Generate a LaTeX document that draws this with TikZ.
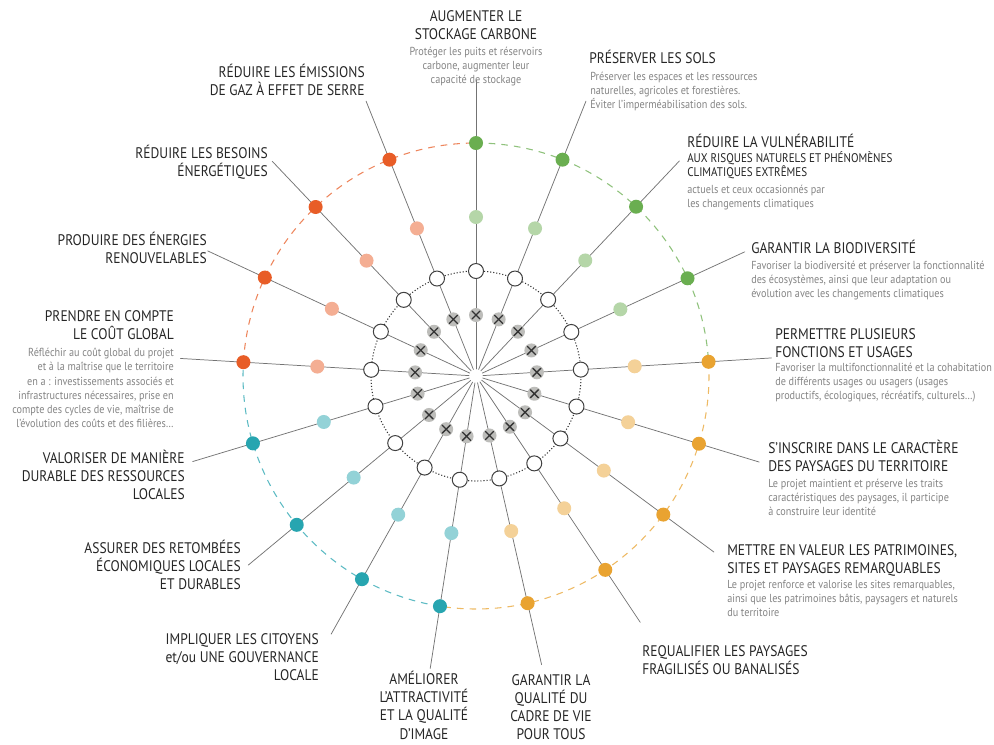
\documentclass[tikz,border=0pt]{standalone}
\usepackage{fontspec}
\setmainfont{PT Sans}[FakeStretch=0.88]

\definecolor{cGreen}{HTML}{6AAE50}
\definecolor{cAmber}{HTML}{E9A331}
\definecolor{cTeal}{HTML}{27A5B0}
\definecolor{cRed}{HTML}{E85D27}
\definecolor{xgrey}{HTML}{BDBDBA}

\begin{document}
\begin{tikzpicture}[x=0.75pt, y=-0.75pt, line cap=round, line join=round,
        ttl/.style={inner sep=0pt, text=black!85, font=\fontsize{11.5}{13.6}\selectfont},
        subt/.style={inner sep=0pt, text=black!85, font=\fontsize{9.4}{10.6}\selectfont},
        dsc/.style={inner sep=0pt, text=black!48, font=\fontsize{8.7}{10.6}\selectfont},
        spoke/.style={draw=black!55, line width=0.55pt},
        ring/.style={draw=black!75, fill=white, line width=0.75pt},
        rim/.style={dash pattern=on 5pt off 4.5pt, line width=0.8pt, line cap=butt}]
    \fill[white] (0,0) rectangle (994,744);
    \coordinate (hub) at (476,376);

    \begin{scope}[shift={(hub)}]
        % dashed rim, one colour per group
        \draw[rim, cGreen!75] (-90:233) arc[start angle=-90, end angle=-3.5, radius=233];
        \draw[rim, cAmber!75] (-3.5:233) arc[start angle=-3.5, end angle=98.9, radius=233];
        \draw[rim, cTeal!75] (98.9:233) arc[start angle=98.9, end angle=183.4, radius=233];
        \draw[rim, cRed!75] (183.4:233) arc[start angle=183.4, end angle=270, radius=233];

        % inner dotted ring
        \draw[black!80, line width=0.8pt, dash pattern=on 0.8pt off 1.5pt, line cap=butt] (0,0) circle (105);

        % spokes
        \foreach \a/\c [count=\i] in {-90/cGreen, -68.2/cGreen, -46.6/cGreen, -24.8/cGreen,
                -3.5/cAmber, 16.9/cAmber, 36.5/cAmber, 56.3/cAmber, 77.2/cAmber,
                98.9/cTeal, 119.3/cTeal, 140.3/cTeal, 163.2/cTeal,
                183.4/cRed, 205/cRed, 226.5/cRed, 248.2/cRed} {
            \coordinate (in\i) at (\a:7);
            \coordinate (tip\i) at (\a:296);
            \coordinate (x\i) at (\a:61);
            \coordinate (w\i) at (\a:105);
            \coordinate (lt\i) at (\a:159);
            \coordinate (dot\i) at (\a:233);
            \draw[spoke] (in\i) -- (tip\i);
            \fill[xgrey] (x\i) circle (7);
            \draw[black!80, line width=1pt] (x\i) +(-4,-4) -- +(4,4) (x\i) +(-4,4) -- +(4,-4);
            \draw[ring] (w\i) circle (7.5);
            \fill[\c!50] (lt\i) circle (7);
            \fill[\c] (dot\i) circle (7);
        }
    \end{scope}

    % Top
    \node[ttl, anchor=north, align=center] (carbone) at (476,10) {AUGMENTER LE\\STOCKAGE CARBONE};
    \node[dsc, anchor=north, align=center] (carboneD) at (476,47) {Protéger les puits et réservoirs\\carbone, augmenter leur\\capacité de stockage};

    % Right side
    \node[ttl, anchor=north west, align=left] (sols) at (589,50) {PRÉSERVER LES SOLS};
    \node[dsc, anchor=north west, align=left] (solsD) at (590,72) {Préserver les espaces et les ressources\\naturelles, agricoles et forestières.\\Éviter l'imperméabilisation des sols.};

    \node[ttl, anchor=north west, align=left] (vuln) at (687,134) {RÉDUIRE LA VULNÉRABILITÉ};
    \node[subt, anchor=north west, align=left] (vulnS) at (687,151) {AUX RISQUES NATURELS ET PHÉNOMÈNES\\CLIMATIQUES EXTRÊMES};
    \node[dsc, anchor=north west, align=left] (vulnD) at (687,185) {actuels et ceux occasionnés par\\les changements climatiques};

    \node[ttl, anchor=north west, align=left] (biodiv) at (751,240) {GARANTIR LA BIODIVERSITÉ};
    \node[dsc, anchor=north west, align=left] (biodivD) at (751,261) {Favoriser la biodiversité et préserver la fonctionnalité\\des écosystèmes, ainsi que leur adaptation ou\\évolution avec les changements climatiques};

    \node[ttl, anchor=north west, align=left] (usages) at (775,328) {PERMETTRE PLUSIEURS\\FONCTIONS ET USAGES};
    \node[dsc, anchor=north west, align=left] (usagesD) at (775,363) {Favoriser la multifonctionnalité et la cohabitation\\de différents usages ou usagers (usages\\productifs, écologiques, récréatifs, culturels…)};

    \node[ttl, anchor=north west, align=left] (caractere) at (768,440) {S'INSCRIRE DANS LE CARACTÈRE\\DES PAYSAGES DU TERRITOIRE};
    \node[dsc, anchor=north west, align=left] (caractereD) at (768,479) {Le projet maintient et préserve les traits\\caractéristiques des paysages, il participe\\à construire leur identité};

    \node[ttl, anchor=north west, align=left] (patrimoine) at (727,544) {METTRE EN VALEUR LES PATRIMOINES,\\SITES ET PAYSAGES REMARQUABLES};
    \node[dsc, anchor=north west, align=left] (patrimoineD) at (727,580) {Le projet renforce et valorise les sites remarquables,\\ainsi que les patrimoines bâtis, paysagers et naturels\\du territoire};

    \node[ttl, anchor=north west, align=left] (requalif) at (642,645) {REQUALIFIER LES PAYSAGES\\FRAGILISÉS OU BANALISÉS};

    % Bottom
    \node[ttl, anchor=north, align=center] (cadrevie) at (551,674) {GARANTIR LA\\QUALITÉ DU\\CADRE DE VIE\\POUR TOUS};
    \node[ttl, anchor=north, align=center] (attract) at (424,671) {AMÉLIORER\\L'ATTRACTIVITÉ\\ET LA QUALITÉ\\D'IMAGE};

    % Left side
    \node[ttl, anchor=north east, align=right] (citoyens) at (319,633) {IMPLIQUER LES CITOYENS\\et/ou UNE GOUVERNANCE\\LOCALE};
    \node[ttl, anchor=north east, align=right] (retombees) at (241,540) {ASSURER DES RETOMBÉES\\ÉCONOMIQUES LOCALES\\ET DURABLES};
    \node[ttl, anchor=north east, align=right] (ressources) at (185,450) {VALORISER DE MANIÈRE\\DURABLE DES RESSOURCES\\LOCALES};

    \node[ttl, anchor=north east, align=right] (cout) at (174,310) {PRENDRE EN COMPTE\\LE COÛT GLOBAL};
    \node[dsc, anchor=north east, align=right] (coutD) at (174,348) {Réfléchir au coût global du projet\\et à la maîtrise que le territoire\\en a : investissements associés et\\infrastructures nécessaires, prise en\\compte des cycles de vie, maîtrise de\\l'évolution des coûts et des filières…};

    \node[ttl, anchor=north east, align=right] (energies) at (207,232) {PRODUIRE DES ÉNERGIES\\RENOUVELABLES};
    \node[ttl, anchor=north east, align=right] (besoins) at (268,145) {RÉDUIRE LES BESOINS\\ÉNERGÉTIQUES};
    \node[ttl, anchor=north east, align=right] (emissions) at (365,64) {RÉDUIRE LES ÉMISSIONS\\DE GAZ À EFFET DE SERRE};
\end{tikzpicture}
\end{document}
